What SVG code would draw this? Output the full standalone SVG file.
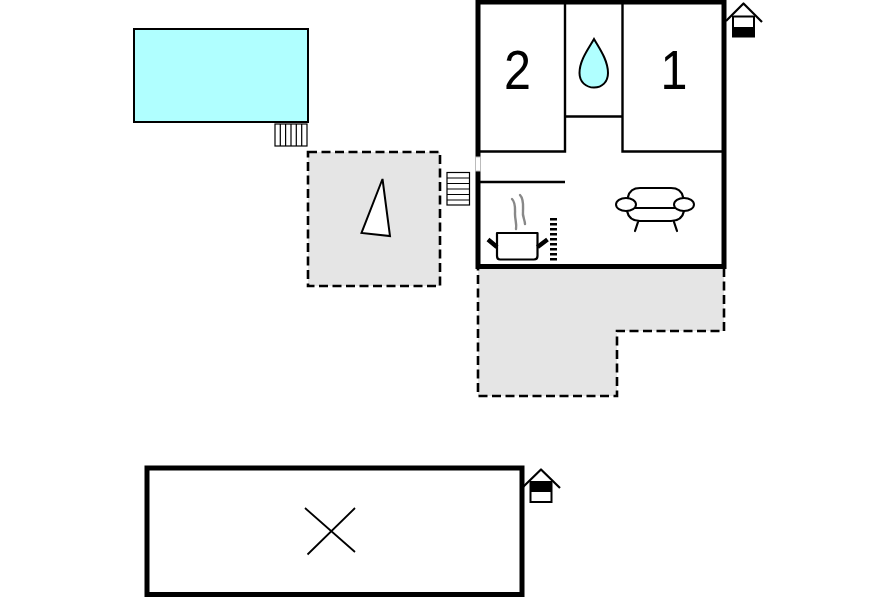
<svg xmlns="http://www.w3.org/2000/svg" width="896" height="597" viewBox="0 0 896 597">
<style>
.n{fill:none;stroke:#000;stroke-width:2.2;stroke-linejoin:round;stroke-linecap:round}
.t{fill:none;stroke:#000;stroke-width:1.2}
.w{fill:none;stroke:#000;stroke-width:2.4}
.wall{fill:none;stroke:#000;stroke-width:5}
.d{fill:#e5e5e5;stroke:none}
.dash{fill:none;stroke:#000;stroke-width:2.6;stroke-dasharray:9 4.500}
.num{font-family:"Liberation Sans",Arial,sans-serif;font-size:55px;fill:#000}
</style>
<g id="pool"><rect x="134" y="29" width="174" height="93" fill="#b0ffff" stroke="#000" stroke-width="2"/></g>
<g id="pool-steps"><rect x="275" y="124" width="32" height="22" fill="#fff" class="t"/><path class="t" d="M280.300 124V146M285.600 124V146M291 124V146M296.300 124V146M301.700 124V146"/></g>
<g id="terrace-left"><rect class="d" x="308" y="152" width="132" height="134"/><rect class="dash" x="308" y="152" width="132" height="134"/><path d="M382.500 179L361.500 233L390 236Z" fill="#fff" stroke="#000" stroke-width="2"/></g>
<g id="entry-steps"><rect x="447" y="172.500" width="22.500" height="32.500" fill="#fff" class="t"/><path class="t" d="M447 178H469.500M447 183.500H469.500M447 189H469.500M447 194.500H469.500M447 200H469.500"/></g>
<g id="terrace-right"><path class="d" d="M478 268H724V331H617V396H478Z"/><path class="dash" d="M724 268V331H617V396H478V268"/></g>
<g id="house">
<rect class="wall" x="478" y="2" width="246" height="264.500"/>
<path class="w" d="M480 151.500H565V3M622.500 3V151.500H722M565 116.500H622.500M480 182H565"/>
<rect x="475.500" y="157" width="5" height="14" fill="#fff" stroke="#bbb" stroke-width="1"/>
</g>
<g id="room-2"><text class="num" transform="translate(517.500 89) scale(.88 1)" text-anchor="middle">2</text></g>
<g id="room-1"><text class="num" transform="translate(674 89) scale(.88 1)" text-anchor="middle">1</text></g>
<g id="bath"><path d="M594 39C589 48 579.500 60 579.500 73C579.500 82 586 87.500 594 87.500C602 87.500 608 82 608 73C608 60 599 48 594 39Z" fill="#b0ffff" stroke="#000" stroke-width="2"/></g>
<g id="kitchen">
<path d="M512 199C516 203 515 209 515 214C515 220 517 224 516 229M520 195C524 199 523 206 523 211C522 216 525 220 525 224" fill="none" stroke="#888" stroke-width="2.400" stroke-linecap="round"/>
<path class="n" d="M497 233H537.500V256Q537.500 259.500 534 259.500H500Q497 259.500 497 256Z"/>
<path d="M488 239.500L497 247M547.500 239.500L537.500 247" stroke="#000" stroke-width="4.500" fill="none"/>
<path d="M553.500 218V263" stroke="#000" stroke-width="7" stroke-dasharray="2.500 2.500" fill="none"/>
</g>
<g id="sofa">
<path class="n" d="M628 197Q630 188 640 188H671Q681 188 683 197M630 208H681M627 211Q629 221 640 221H671Q682 221 684 211M638 222L635 231M674 222L677 231"/>
<ellipse cx="626" cy="204.500" rx="10" ry="6.500" fill="#fff" stroke="#000" stroke-width="2"/>
<ellipse cx="684" cy="204.500" rx="10" ry="6.500" fill="#fff" stroke="#000" stroke-width="2"/>
</g>
<g id="icon-upper">
<path class="n" style="stroke-linecap:butt" d="M726 21L743.500 3.500L762 22"/>
<rect x="733" y="16.500" width="21" height="20" fill="#fff" stroke="#000" stroke-width="2"/>
<rect x="733" y="27" width="21" height="10" fill="#000"/>
</g>
<g id="annex">
<rect class="wall" x="147" y="468" width="375" height="126.500"/>
<path d="M305 508L355 552M355 508L307.500 554.500" fill="none" stroke="#000" stroke-width="1.800"/>
</g>
<g id="icon-lower">
<path class="n" style="stroke-linecap:butt" d="M523 487L541 469.500L560 488"/>
<rect x="530.500" y="482" width="21" height="20" fill="#fff" stroke="#000" stroke-width="2"/>
<rect x="530.500" y="482" width="21" height="10" fill="#000"/>
</g>
</svg>
